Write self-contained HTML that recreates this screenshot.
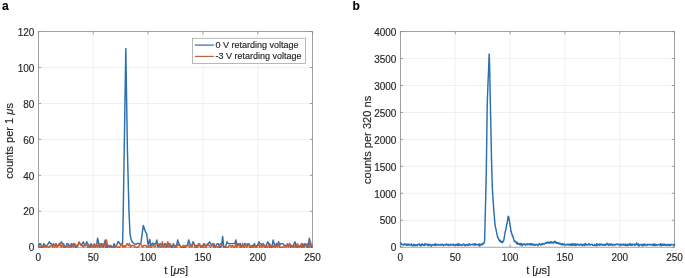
<!DOCTYPE html>
<html><head><meta charset="utf-8"><style>
html,body{margin:0;padding:0;background:#fff;width:685px;height:278px;overflow:hidden;}
svg{display:block;will-change:transform;filter:blur(0.25px);}
text{stroke:#262626;stroke-width:0.15px;}
</style></head><body>
<svg width="685" height="278" viewBox="0 0 685 278">
<rect width="685" height="278" fill="#ffffff"/>
<g font-family='"Liberation Sans", sans-serif' fill="#262626">
<line x1="93.24" y1="31.60" x2="93.24" y2="247.20" stroke="#ececec" stroke-width="0.8"/>
<line x1="148.08" y1="31.60" x2="148.08" y2="247.20" stroke="#ececec" stroke-width="0.8"/>
<line x1="202.92" y1="31.60" x2="202.92" y2="247.20" stroke="#ececec" stroke-width="0.8"/>
<line x1="257.76" y1="31.60" x2="257.76" y2="247.20" stroke="#ececec" stroke-width="0.8"/>
<line x1="38.40" y1="211.27" x2="312.60" y2="211.27" stroke="#ececec" stroke-width="0.8"/>
<line x1="38.40" y1="175.33" x2="312.60" y2="175.33" stroke="#ececec" stroke-width="0.8"/>
<line x1="38.40" y1="139.40" x2="312.60" y2="139.40" stroke="#ececec" stroke-width="0.8"/>
<line x1="38.40" y1="103.47" x2="312.60" y2="103.47" stroke="#ececec" stroke-width="0.8"/>
<line x1="38.40" y1="67.53" x2="312.60" y2="67.53" stroke="#ececec" stroke-width="0.8"/>
<line x1="455.24" y1="31.60" x2="455.24" y2="247.20" stroke="#ececec" stroke-width="0.8"/>
<line x1="510.08" y1="31.60" x2="510.08" y2="247.20" stroke="#ececec" stroke-width="0.8"/>
<line x1="564.92" y1="31.60" x2="564.92" y2="247.20" stroke="#ececec" stroke-width="0.8"/>
<line x1="619.76" y1="31.60" x2="619.76" y2="247.20" stroke="#ececec" stroke-width="0.8"/>
<line x1="400.40" y1="220.25" x2="674.60" y2="220.25" stroke="#ececec" stroke-width="0.8"/>
<line x1="400.40" y1="193.30" x2="674.60" y2="193.30" stroke="#ececec" stroke-width="0.8"/>
<line x1="400.40" y1="166.35" x2="674.60" y2="166.35" stroke="#ececec" stroke-width="0.8"/>
<line x1="400.40" y1="139.40" x2="674.60" y2="139.40" stroke="#ececec" stroke-width="0.8"/>
<line x1="400.40" y1="112.45" x2="674.60" y2="112.45" stroke="#ececec" stroke-width="0.8"/>
<line x1="400.40" y1="85.50" x2="674.60" y2="85.50" stroke="#ececec" stroke-width="0.8"/>
<line x1="400.40" y1="58.55" x2="674.60" y2="58.55" stroke="#ececec" stroke-width="0.8"/>
<rect x="38.40" y="31.60" width="274.20" height="215.60" fill="none" stroke="#8a8a8a" stroke-width="0.80"/>
<line x1="38.40" y1="247.20" x2="38.40" y2="244.50" stroke="#8a8a8a" stroke-width="0.80"/>
<line x1="38.40" y1="31.60" x2="38.40" y2="34.30" stroke="#8a8a8a" stroke-width="0.80"/>
<line x1="93.24" y1="247.20" x2="93.24" y2="244.50" stroke="#8a8a8a" stroke-width="0.80"/>
<line x1="93.24" y1="31.60" x2="93.24" y2="34.30" stroke="#8a8a8a" stroke-width="0.80"/>
<line x1="148.08" y1="247.20" x2="148.08" y2="244.50" stroke="#8a8a8a" stroke-width="0.80"/>
<line x1="148.08" y1="31.60" x2="148.08" y2="34.30" stroke="#8a8a8a" stroke-width="0.80"/>
<line x1="202.92" y1="247.20" x2="202.92" y2="244.50" stroke="#8a8a8a" stroke-width="0.80"/>
<line x1="202.92" y1="31.60" x2="202.92" y2="34.30" stroke="#8a8a8a" stroke-width="0.80"/>
<line x1="257.76" y1="247.20" x2="257.76" y2="244.50" stroke="#8a8a8a" stroke-width="0.80"/>
<line x1="257.76" y1="31.60" x2="257.76" y2="34.30" stroke="#8a8a8a" stroke-width="0.80"/>
<line x1="312.60" y1="247.20" x2="312.60" y2="244.50" stroke="#8a8a8a" stroke-width="0.80"/>
<line x1="312.60" y1="31.60" x2="312.60" y2="34.30" stroke="#8a8a8a" stroke-width="0.80"/>
<line x1="38.40" y1="247.20" x2="41.10" y2="247.20" stroke="#8a8a8a" stroke-width="0.80"/>
<line x1="312.60" y1="247.20" x2="309.90" y2="247.20" stroke="#8a8a8a" stroke-width="0.80"/>
<line x1="38.40" y1="211.27" x2="41.10" y2="211.27" stroke="#8a8a8a" stroke-width="0.80"/>
<line x1="312.60" y1="211.27" x2="309.90" y2="211.27" stroke="#8a8a8a" stroke-width="0.80"/>
<line x1="38.40" y1="175.33" x2="41.10" y2="175.33" stroke="#8a8a8a" stroke-width="0.80"/>
<line x1="312.60" y1="175.33" x2="309.90" y2="175.33" stroke="#8a8a8a" stroke-width="0.80"/>
<line x1="38.40" y1="139.40" x2="41.10" y2="139.40" stroke="#8a8a8a" stroke-width="0.80"/>
<line x1="312.60" y1="139.40" x2="309.90" y2="139.40" stroke="#8a8a8a" stroke-width="0.80"/>
<line x1="38.40" y1="103.47" x2="41.10" y2="103.47" stroke="#8a8a8a" stroke-width="0.80"/>
<line x1="312.60" y1="103.47" x2="309.90" y2="103.47" stroke="#8a8a8a" stroke-width="0.80"/>
<line x1="38.40" y1="67.53" x2="41.10" y2="67.53" stroke="#8a8a8a" stroke-width="0.80"/>
<line x1="312.60" y1="67.53" x2="309.90" y2="67.53" stroke="#8a8a8a" stroke-width="0.80"/>
<line x1="38.40" y1="31.60" x2="41.10" y2="31.60" stroke="#8a8a8a" stroke-width="0.80"/>
<line x1="312.60" y1="31.60" x2="309.90" y2="31.60" stroke="#8a8a8a" stroke-width="0.80"/>
<rect x="400.40" y="31.60" width="274.20" height="215.60" fill="none" stroke="#8a8a8a" stroke-width="0.80"/>
<line x1="400.40" y1="247.20" x2="400.40" y2="244.50" stroke="#8a8a8a" stroke-width="0.80"/>
<line x1="400.40" y1="31.60" x2="400.40" y2="34.30" stroke="#8a8a8a" stroke-width="0.80"/>
<line x1="455.24" y1="247.20" x2="455.24" y2="244.50" stroke="#8a8a8a" stroke-width="0.80"/>
<line x1="455.24" y1="31.60" x2="455.24" y2="34.30" stroke="#8a8a8a" stroke-width="0.80"/>
<line x1="510.08" y1="247.20" x2="510.08" y2="244.50" stroke="#8a8a8a" stroke-width="0.80"/>
<line x1="510.08" y1="31.60" x2="510.08" y2="34.30" stroke="#8a8a8a" stroke-width="0.80"/>
<line x1="564.92" y1="247.20" x2="564.92" y2="244.50" stroke="#8a8a8a" stroke-width="0.80"/>
<line x1="564.92" y1="31.60" x2="564.92" y2="34.30" stroke="#8a8a8a" stroke-width="0.80"/>
<line x1="619.76" y1="247.20" x2="619.76" y2="244.50" stroke="#8a8a8a" stroke-width="0.80"/>
<line x1="619.76" y1="31.60" x2="619.76" y2="34.30" stroke="#8a8a8a" stroke-width="0.80"/>
<line x1="674.60" y1="247.20" x2="674.60" y2="244.50" stroke="#8a8a8a" stroke-width="0.80"/>
<line x1="674.60" y1="31.60" x2="674.60" y2="34.30" stroke="#8a8a8a" stroke-width="0.80"/>
<line x1="400.40" y1="247.20" x2="403.10" y2="247.20" stroke="#8a8a8a" stroke-width="0.80"/>
<line x1="674.60" y1="247.20" x2="671.90" y2="247.20" stroke="#8a8a8a" stroke-width="0.80"/>
<line x1="400.40" y1="220.25" x2="403.10" y2="220.25" stroke="#8a8a8a" stroke-width="0.80"/>
<line x1="674.60" y1="220.25" x2="671.90" y2="220.25" stroke="#8a8a8a" stroke-width="0.80"/>
<line x1="400.40" y1="193.30" x2="403.10" y2="193.30" stroke="#8a8a8a" stroke-width="0.80"/>
<line x1="674.60" y1="193.30" x2="671.90" y2="193.30" stroke="#8a8a8a" stroke-width="0.80"/>
<line x1="400.40" y1="166.35" x2="403.10" y2="166.35" stroke="#8a8a8a" stroke-width="0.80"/>
<line x1="674.60" y1="166.35" x2="671.90" y2="166.35" stroke="#8a8a8a" stroke-width="0.80"/>
<line x1="400.40" y1="139.40" x2="403.10" y2="139.40" stroke="#8a8a8a" stroke-width="0.80"/>
<line x1="674.60" y1="139.40" x2="671.90" y2="139.40" stroke="#8a8a8a" stroke-width="0.80"/>
<line x1="400.40" y1="112.45" x2="403.10" y2="112.45" stroke="#8a8a8a" stroke-width="0.80"/>
<line x1="674.60" y1="112.45" x2="671.90" y2="112.45" stroke="#8a8a8a" stroke-width="0.80"/>
<line x1="400.40" y1="85.50" x2="403.10" y2="85.50" stroke="#8a8a8a" stroke-width="0.80"/>
<line x1="674.60" y1="85.50" x2="671.90" y2="85.50" stroke="#8a8a8a" stroke-width="0.80"/>
<line x1="400.40" y1="58.55" x2="403.10" y2="58.55" stroke="#8a8a8a" stroke-width="0.80"/>
<line x1="674.60" y1="58.55" x2="671.90" y2="58.55" stroke="#8a8a8a" stroke-width="0.80"/>
<line x1="400.40" y1="31.60" x2="403.10" y2="31.60" stroke="#8a8a8a" stroke-width="0.80"/>
<line x1="674.60" y1="31.60" x2="671.90" y2="31.60" stroke="#8a8a8a" stroke-width="0.80"/>
<polyline fill="none" stroke="#2a6fb0" stroke-width="1.45" stroke-linejoin="round" points="38.40,247.20 39.50,243.61 40.59,243.61 41.69,247.20 42.79,247.20 43.88,243.61 44.98,245.40 46.08,247.20 47.17,245.40 48.27,243.61 49.37,241.81 50.46,243.61 51.56,243.61 52.66,245.40 53.76,245.40 54.85,245.40 55.95,243.61 57.05,245.40 58.14,245.40 59.24,245.40 60.34,243.61 61.43,241.81 62.53,243.61 63.63,243.61 64.72,247.20 65.82,247.20 66.92,243.61 68.01,243.61 69.11,245.40 70.21,247.20 71.30,243.61 72.40,245.40 73.50,243.61 74.59,245.40 75.69,247.20 76.79,247.20 77.88,245.40 78.98,243.61 80.08,243.61 81.18,245.40 82.27,243.61 83.37,241.81 84.47,245.40 85.56,245.40 86.66,241.81 87.76,243.61 88.85,245.40 89.95,247.20 91.05,243.61 92.14,245.40 93.24,247.20 94.34,245.40 95.43,247.20 96.53,245.40 97.63,238.22 98.72,243.61 99.82,247.20 100.92,243.61 102.01,243.61 103.11,247.20 104.21,243.61 105.30,240.01 106.40,247.20 107.50,247.20 108.60,245.40 109.69,247.20 110.79,245.40 111.89,247.20 112.98,247.20 114.08,243.61 115.18,247.20 116.27,245.40 117.37,243.61 118.20,241.40 120.00,244.00 121.80,244.20 122.60,243.60 123.20,215.00 125.80,48.40 127.40,150.00 129.00,212.00 130.00,234.00 131.30,240.20 132.60,242.30 134.00,243.50 135.50,244.60 136.80,243.80 138.20,243.20 139.60,244.20 140.90,243.20 143.30,225.40 145.50,231.90 146.60,233.50 148.10,244.80 149.80,239.40 150.60,245.40 151.70,244.40 152.70,243.00 153.80,244.60 154.66,243.61 155.76,243.61 156.85,240.01 157.95,247.20 159.05,245.40 160.14,243.61 161.24,245.40 162.34,245.40 163.44,247.20 164.53,243.61 165.63,243.61 166.73,247.20 167.82,245.40 168.92,243.61 170.02,243.61 171.11,247.20 172.21,247.20 173.31,243.61 174.40,247.20 175.50,245.40 176.60,245.40 177.69,240.01 178.79,243.61 179.89,245.40 180.98,247.20 182.08,247.20 183.18,247.20 184.27,247.20 185.37,247.20 186.47,245.40 187.56,245.40 188.66,240.01 189.76,243.61 190.86,245.40 191.95,245.40 193.05,241.81 194.15,243.61 195.24,247.20 196.34,245.40 197.44,245.40 198.53,245.40 199.63,245.40 200.73,245.40 201.82,247.20 202.92,245.40 204.02,243.61 205.11,245.40 206.21,245.40 207.31,245.40 208.40,243.61 209.50,241.81 210.60,243.61 211.69,245.40 212.79,245.40 213.89,243.61 214.98,247.20 216.08,245.40 217.18,243.61 218.28,243.61 219.37,247.20 220.47,247.20 221.57,245.40 222.66,236.42 223.76,247.20 224.86,247.20 225.95,245.40 227.05,241.81 228.15,243.61 229.24,243.61 230.34,243.61 231.44,243.61 232.53,243.61 233.63,243.61 234.73,243.61 235.82,240.01 236.92,245.40 238.02,243.61 239.11,245.40 240.21,243.61 241.31,247.20 242.40,245.40 243.50,245.40 244.60,243.61 245.70,245.40 246.79,245.40 247.89,243.61 248.99,243.61 250.08,247.20 251.18,247.20 252.28,245.40 253.37,245.40 254.47,243.61 255.57,247.20 256.66,245.40 257.76,245.40 258.86,241.81 259.95,243.61 261.05,243.61 262.15,245.40 263.24,243.61 264.34,245.40 265.44,247.20 266.53,245.40 267.63,241.81 268.73,243.61 269.82,247.20 270.92,247.20 272.02,247.20 273.12,240.01 274.21,243.61 275.31,247.20 276.41,243.61 277.50,245.40 278.60,241.81 279.70,245.40 280.79,243.61 281.89,243.61 282.99,243.61 284.08,245.40 285.18,245.40 286.28,245.40 287.37,245.40 288.47,245.40 289.57,243.61 290.66,247.20 291.76,245.40 292.86,247.20 293.95,243.61 295.05,241.81 296.15,247.20 297.24,247.20 298.34,245.40 299.44,247.20 300.54,245.40 301.63,247.20 302.73,243.61 303.83,247.20 304.92,243.61 306.02,245.40 307.12,247.20 308.21,247.20 309.31,238.22 310.41,243.61 311.50,247.20 312.60,247.20"/>
<polyline fill="none" stroke="#cc5a2a" stroke-width="1.45" stroke-linejoin="round" points="38.40,247.20 39.50,247.20 40.59,247.20 41.69,245.40 42.79,247.20 43.88,247.20 44.98,245.40 46.08,247.20 47.17,245.40 48.27,247.20 49.37,247.20 50.46,245.40 51.56,245.40 52.66,247.20 53.76,243.61 54.85,247.20 55.95,243.61 57.05,247.20 58.14,245.40 59.24,243.61 60.34,245.40 61.43,247.20 62.53,243.61 63.63,247.20 64.72,247.20 65.82,247.20 66.92,245.40 68.01,247.20 69.11,245.40 70.21,247.20 71.30,247.20 72.40,245.40 73.50,247.20 74.59,243.61 75.69,245.40 76.79,245.40 77.88,245.40 78.98,241.81 80.08,243.61 81.18,245.40 82.27,245.40 83.37,247.20 84.47,245.40 85.56,245.40 86.66,243.61 87.76,247.20 88.85,247.20 89.95,247.20 91.05,247.20 92.14,245.40 93.24,247.20 94.34,243.61 95.43,247.20 96.53,243.61 97.63,247.20 98.72,245.40 99.82,243.61 100.92,245.40 102.01,247.20 103.11,245.40 104.21,243.61 105.30,247.20 106.40,240.01 107.50,245.40 108.60,245.40 109.69,245.40 110.79,247.20 111.89,247.20 112.98,247.20 114.08,247.20 115.18,247.20 116.27,245.40 117.37,247.20 118.47,247.20 119.56,247.20 120.66,245.40 121.76,243.61 122.85,247.20 123.95,245.40 125.05,247.20 126.14,245.40 127.24,243.61 128.34,245.40 129.43,243.61 130.53,247.20 131.63,245.40 132.72,245.40 133.82,245.40 134.92,247.20 136.02,247.20 137.11,247.20 138.21,247.20 139.31,245.40 140.40,243.61 141.50,245.40 142.60,247.20 143.69,245.40 144.79,245.40 145.89,245.40 146.98,247.20 148.08,247.20 149.18,245.40 150.27,247.20 151.37,247.20 152.47,245.40 153.56,245.40 154.66,247.20 155.76,245.40 156.85,243.61 157.95,243.61 159.05,245.40 160.14,247.20 161.24,247.20 162.34,241.81 163.44,247.20 164.53,245.40 165.63,247.20 166.73,245.40 167.82,241.81 168.92,247.20 170.02,245.40 171.11,245.40 172.21,245.40 173.31,245.40 174.40,245.40 175.50,247.20 176.60,247.20 177.69,243.61 178.79,245.40 179.89,245.40 180.98,247.20 182.08,247.20 183.18,245.40 184.27,245.40 185.37,247.20 186.47,245.40 187.56,245.40 188.66,245.40 189.76,247.20 190.86,245.40 191.95,247.20 193.05,243.61 194.15,243.61 195.24,247.20 196.34,247.20 197.44,247.20 198.53,243.61 199.63,243.61 200.73,247.20 201.82,247.20 202.92,245.40 204.02,247.20 205.11,247.20 206.21,247.20 207.31,243.61 208.40,245.40 209.50,245.40 210.60,247.20 211.69,245.40 212.79,243.61 213.89,247.20 214.98,247.20 216.08,245.40 217.18,247.20 218.28,247.20 219.37,245.40 220.47,243.61 221.57,245.40 222.66,245.40 223.76,247.20 224.86,247.20 225.95,247.20 227.05,247.20 228.15,247.20 229.24,245.40 230.34,245.40 231.44,247.20 232.53,245.40 233.63,247.20 234.73,247.20 235.82,243.61 236.92,247.20 238.02,245.40 239.11,243.61 240.21,247.20 241.31,247.20 242.40,243.61 243.50,247.20 244.60,247.20 245.70,243.61 246.79,247.20 247.89,245.40 248.99,245.40 250.08,247.20 251.18,245.40 252.28,247.20 253.37,247.20 254.47,245.40 255.57,247.20 256.66,247.20 257.76,245.40 258.86,243.61 259.95,247.20 261.05,245.40 262.15,247.20 263.24,243.61 264.34,247.20 265.44,245.40 266.53,247.20 267.63,247.20 268.73,245.40 269.82,243.61 270.92,247.20 272.02,245.40 273.12,247.20 274.21,245.40 275.31,247.20 276.41,245.40 277.50,247.20 278.60,243.61 279.70,247.20 280.79,247.20 281.89,247.20 282.99,247.20 284.08,247.20 285.18,245.40 286.28,247.20 287.37,243.61 288.47,247.20 289.57,243.61 290.66,245.40 291.76,245.40 292.86,247.20 293.95,245.40 295.05,247.20 296.15,247.20 297.24,243.61 298.34,245.40 299.44,247.20 300.54,245.40 301.63,243.61 302.73,247.20 303.83,247.20 304.92,245.40 306.02,245.40 307.12,243.61 308.21,247.20 309.31,247.20 310.41,241.81 311.50,245.40 312.60,245.40"/>
<polyline fill="none" stroke="#2a6fb0" stroke-width="1.45" stroke-linejoin="round" points="400.40,242.29 400.75,243.14 401.10,243.51 401.45,244.66 401.80,244.09 402.15,244.32 402.51,244.39 402.86,244.71 403.21,244.44 403.56,244.67 403.91,245.09 404.26,244.04 404.61,244.06 404.96,243.67 405.31,244.49 405.66,244.73 406.02,244.81 406.37,245.31 406.72,244.10 407.07,245.12 407.42,245.18 407.77,244.72 408.12,243.91 408.47,244.54 408.82,245.16 409.17,245.03 409.53,244.39 409.88,244.79 410.23,245.10 410.58,244.85 410.93,244.39 411.28,243.81 411.63,245.38 411.98,245.08 412.33,245.16 412.68,245.95 413.04,245.22 413.39,245.27 413.74,244.23 414.09,244.84 414.44,245.56 414.79,244.46 415.14,244.95 415.49,245.62 415.84,245.06 416.19,245.06 416.54,245.20 416.90,244.76 417.25,245.87 417.60,244.90 417.95,244.28 418.30,244.36 418.65,244.24 419.00,244.23 419.35,244.05 419.70,245.32 420.05,244.36 420.41,245.68 420.76,245.07 421.11,245.70 421.46,244.27 421.81,244.13 422.16,244.87 422.51,243.91 422.86,245.10 423.21,244.70 423.56,244.70 423.92,245.29 424.27,244.56 424.62,243.83 424.97,245.27 425.32,244.34 425.67,244.85 426.02,243.92 426.37,244.54 426.72,244.45 427.07,244.46 427.43,244.65 427.78,245.45 428.13,244.10 428.48,245.44 428.83,244.66 429.18,244.48 429.53,245.18 429.88,244.70 430.23,244.21 430.58,244.79 430.93,245.21 431.29,246.19 431.64,245.25 431.99,245.06 432.34,245.03 432.69,245.24 433.04,244.59 433.39,245.05 433.74,244.83 434.09,244.45 434.44,245.19 434.80,244.92 435.15,243.73 435.50,244.35 435.85,245.40 436.20,244.81 436.55,244.50 436.90,244.18 437.25,244.70 437.60,245.03 437.95,245.13 438.31,244.46 438.66,244.62 439.01,245.03 439.36,244.87 439.71,244.98 440.06,244.42 440.41,245.11 440.76,244.54 441.11,244.36 441.46,244.54 441.82,245.18 442.17,244.12 442.52,245.10 442.87,244.57 443.22,245.14 443.57,245.62 443.92,244.66 444.27,244.64 444.62,244.81 444.97,244.64 445.32,245.09 445.68,245.13 446.03,244.86 446.38,243.85 446.73,244.38 447.08,245.03 447.43,244.50 447.78,245.01 448.13,245.00 448.48,244.36 448.83,245.03 449.19,245.59 449.54,245.21 449.89,244.73 450.24,244.71 450.59,244.17 450.94,245.12 451.29,244.42 451.64,244.57 451.99,244.85 452.34,244.37 452.70,244.54 453.05,245.19 453.40,244.25 453.75,245.37 454.10,244.75 454.45,244.77 454.80,244.57 455.15,245.13 455.50,244.79 455.85,244.84 456.21,244.29 456.56,245.16 456.91,244.74 457.26,244.90 457.61,245.40 457.96,243.48 458.31,244.81 458.66,245.50 459.01,244.09 459.36,245.29 459.71,244.59 460.07,244.36 460.42,245.09 460.77,244.98 461.12,245.04 461.47,244.84 461.82,245.56 462.17,245.37 462.52,244.84 462.87,244.27 463.22,244.47 463.58,243.94 463.93,244.44 464.28,245.02 464.63,244.83 464.98,245.76 465.33,245.24 465.68,245.27 466.03,244.64 466.38,244.46 466.73,245.04 467.09,245.06 467.44,245.52 467.79,244.83 468.14,244.65 468.49,244.55 468.84,245.15 469.19,243.80 469.54,244.18 469.89,244.81 470.24,245.02 470.60,244.92 470.95,244.69 471.30,244.77 471.65,244.52 472.00,244.38 472.35,244.09 472.70,244.20 473.05,244.81 473.40,244.56 473.75,244.94 474.10,245.03 474.46,243.82 474.81,244.97 475.16,243.78 475.51,244.91 475.86,244.62 476.21,244.21 476.56,244.73 476.91,244.55 477.26,244.86 477.61,244.97 477.97,244.82 478.32,245.05 478.67,243.94 479.02,244.81 479.37,243.90 479.72,246.03 480.07,244.72 480.42,244.46 480.77,244.87 481.12,244.19 481.48,244.41 481.83,244.86 482.18,244.51 482.53,243.36 482.88,244.27 483.23,243.72 483.58,243.55 483.93,242.75 484.28,242.91 484.63,240.59 484.99,225.25 485.34,211.88 485.69,198.04 486.04,182.38 486.39,164.54 486.74,140.80 487.09,112.60 487.44,98.17 487.79,89.42 488.14,79.47 488.49,72.26 488.85,62.20 489.20,53.97 489.55,63.72 489.90,80.23 490.25,97.76 490.60,115.23 490.95,131.19 491.30,149.79 491.65,165.14 492.00,176.19 492.36,188.66 492.71,194.00 493.06,199.31 493.41,203.74 493.76,210.26 494.11,213.69 494.46,218.11 494.81,222.84 495.16,225.12 495.51,227.79 495.87,228.30 496.22,230.57 496.57,232.20 496.92,234.22 497.27,235.23 497.62,237.43 497.97,237.35 498.32,238.56 498.67,238.98 499.02,240.00 499.38,240.17 499.73,241.23 500.08,240.30 500.43,240.43 500.78,242.01 501.13,242.28 501.48,242.27 501.83,241.69 502.18,241.29 502.53,242.69 502.88,241.86 503.24,241.39 503.59,240.72 503.94,239.61 504.29,236.86 504.64,235.82 504.99,232.76 505.34,231.27 505.69,230.44 506.04,228.68 506.39,226.72 506.75,223.93 507.10,222.97 507.45,221.24 507.80,218.49 508.15,216.24 508.50,216.66 508.85,217.44 509.20,219.99 509.55,221.78 509.90,224.54 510.26,226.26 510.61,228.44 510.96,231.59 511.31,231.52 511.66,233.70 512.01,234.01 512.36,235.88 512.71,235.35 513.06,237.34 513.41,238.25 513.77,239.39 514.12,240.96 514.47,241.81 514.82,241.25 515.17,241.04 515.52,241.82 515.87,241.87 516.22,242.18 516.57,243.73 516.92,242.96 517.28,242.24 517.63,243.57 517.98,244.37 518.33,243.60 518.68,243.81 519.03,243.48 519.38,244.21 519.73,243.83 520.08,245.05 520.43,243.65 520.78,243.39 521.14,243.61 521.49,244.98 521.84,244.09 522.19,245.70 522.54,244.12 522.89,244.30 523.24,244.75 523.59,244.11 523.94,244.22 524.29,243.83 524.65,244.23 525.00,244.19 525.35,245.25 525.70,244.87 526.05,244.55 526.40,244.18 526.75,244.33 527.10,243.61 527.45,244.76 527.80,244.46 528.16,244.23 528.51,244.47 528.86,244.12 529.21,244.65 529.56,243.69 529.91,244.54 530.26,243.85 530.61,244.41 530.96,243.67 531.31,245.08 531.67,244.16 532.02,244.63 532.37,244.31 532.72,243.85 533.07,244.98 533.42,245.08 533.77,244.93 534.12,244.33 534.47,245.37 534.82,244.41 535.17,245.09 535.53,245.03 535.88,244.66 536.23,244.30 536.58,244.79 536.93,244.73 537.28,244.52 537.63,244.64 537.98,245.82 538.33,244.74 538.68,244.50 539.04,244.02 539.39,243.57 539.74,244.25 540.09,244.55 540.44,245.07 540.79,244.57 541.14,244.17 541.49,243.86 541.84,244.83 542.19,244.22 542.55,243.87 542.90,243.30 543.25,244.01 543.60,244.32 543.95,244.33 544.30,244.05 544.65,244.06 545.00,243.20 545.35,242.95 545.70,242.98 546.06,242.61 546.41,243.27 546.76,242.73 547.11,242.96 547.46,242.62 547.81,241.91 548.16,242.38 548.51,243.15 548.86,242.40 549.21,242.66 549.56,243.08 549.92,242.77 550.27,241.95 550.62,241.64 550.97,242.72 551.32,242.04 551.67,241.98 552.02,243.09 552.37,242.49 552.72,242.43 553.07,242.27 553.43,243.08 553.78,242.42 554.13,241.68 554.48,241.52 554.83,241.36 555.18,242.53 555.53,241.57 555.88,242.28 556.23,243.38 556.58,242.47 556.94,243.12 557.29,242.82 557.64,243.24 557.99,242.72 558.34,243.30 558.69,243.64 559.04,243.11 559.39,243.54 559.74,243.94 560.09,243.20 560.45,244.09 560.80,244.28 561.15,244.31 561.50,244.84 561.85,244.47 562.20,243.38 562.55,244.80 562.90,244.40 563.25,244.95 563.60,244.71 563.95,243.69 564.31,243.99 564.66,244.73 565.01,244.44 565.36,244.85 565.71,244.84 566.06,244.91 566.41,244.91 566.76,244.32 567.11,244.20 567.46,244.26 567.82,244.58 568.17,245.17 568.52,244.55 568.87,244.97 569.22,244.10 569.57,244.27 569.92,244.18 570.27,244.72 570.62,245.44 570.97,244.10 571.33,243.98 571.68,245.30 572.03,244.52 572.38,244.02 572.73,245.12 573.08,243.75 573.43,244.79 573.78,245.15 574.13,243.97 574.48,244.50 574.84,244.96 575.19,244.23 575.54,245.61 575.89,243.79 576.24,245.06 576.59,244.53 576.94,244.86 577.29,244.46 577.64,244.24 577.99,245.07 578.34,244.29 578.70,244.81 579.05,245.00 579.40,244.78 579.75,245.16 580.10,245.06 580.45,244.21 580.80,244.75 581.15,244.12 581.50,244.46 581.85,245.17 582.21,245.59 582.56,245.01 582.91,244.55 583.26,244.67 583.61,245.08 583.96,244.18 584.31,245.52 584.66,245.29 585.01,244.61 585.36,243.61 585.72,244.48 586.07,245.17 586.42,244.39 586.77,244.35 587.12,244.22 587.47,244.88 587.82,245.07 588.17,244.62 588.52,244.48 588.87,243.91 589.23,243.67 589.58,245.04 589.93,244.94 590.28,244.71 590.63,244.80 590.98,244.45 591.33,244.45 591.68,244.56 592.03,244.03 592.38,244.76 592.73,245.19 593.09,245.44 593.44,245.18 593.79,245.19 594.14,245.60 594.49,244.37 594.84,244.60 595.19,244.89 595.54,245.12 595.89,245.46 596.24,245.14 596.60,243.79 596.95,245.76 597.30,244.62 597.65,244.33 598.00,244.62 598.35,244.84 598.70,244.32 599.05,245.23 599.40,244.42 599.75,244.00 600.11,245.20 600.46,245.09 600.81,244.63 601.16,244.21 601.51,244.05 601.86,244.36 602.21,245.02 602.56,245.24 602.91,244.58 603.26,244.50 603.62,245.23 603.97,244.67 604.32,244.54 604.67,244.19 605.02,245.18 605.37,244.43 605.72,245.27 606.07,244.91 606.42,244.74 606.77,243.96 607.12,243.09 607.48,244.58 607.83,244.46 608.18,244.21 608.53,245.36 608.88,244.33 609.23,245.31 609.58,243.91 609.93,244.00 610.28,244.46 610.63,245.10 610.99,243.90 611.34,244.58 611.69,244.65 612.04,244.43 612.39,245.54 612.74,244.50 613.09,244.22 613.44,244.54 613.79,244.64 614.14,245.17 614.50,244.40 614.85,244.61 615.20,244.71 615.55,244.98 615.90,244.30 616.25,244.11 616.60,244.52 616.95,244.28 617.30,244.07 617.65,243.94 618.01,244.60 618.36,244.82 618.71,244.91 619.06,244.71 619.41,244.45 619.76,244.26 620.11,244.92 620.46,244.64 620.81,245.20 621.16,244.10 621.51,244.91 621.87,244.54 622.22,245.07 622.57,244.86 622.92,245.05 623.27,243.89 623.62,244.54 623.97,244.80 624.32,245.18 624.67,245.02 625.02,244.44 625.38,243.91 625.73,245.42 626.08,245.17 626.43,244.81 626.78,245.03 627.13,245.53 627.48,244.71 627.83,244.36 628.18,245.49 628.53,244.62 628.89,244.26 629.24,244.25 629.59,244.93 629.94,243.61 630.29,244.46 630.64,245.12 630.99,244.25 631.34,245.27 631.69,244.29 632.04,245.34 632.40,244.34 632.75,245.01 633.10,244.18 633.45,244.37 633.80,244.51 634.15,244.70 634.50,244.20 634.85,245.61 635.20,244.52 635.55,244.53 635.90,244.46 636.26,244.33 636.61,242.94 636.96,244.68 637.31,244.34 637.66,244.66 638.01,243.97 638.36,245.72 638.71,243.91 639.06,245.07 639.41,245.83 639.77,245.26 640.12,244.82 640.47,244.64 640.82,244.76 641.17,244.34 641.52,244.76 641.87,244.77 642.22,245.78 642.57,244.50 642.92,244.25 643.28,244.94 643.63,245.65 643.98,245.39 644.33,243.93 644.68,245.04 645.03,245.06 645.38,245.14 645.73,244.41 646.08,245.03 646.43,245.17 646.79,245.47 647.14,244.80 647.49,244.26 647.84,244.82 648.19,244.32 648.54,244.66 648.89,244.67 649.24,244.66 649.59,244.73 649.94,244.25 650.29,244.51 650.65,245.03 651.00,244.69 651.35,244.79 651.70,244.51 652.05,244.66 652.40,244.55 652.75,245.47 653.10,244.57 653.45,244.11 653.80,245.41 654.16,243.98 654.51,244.61 654.86,244.85 655.21,245.63 655.56,244.23 655.91,245.22 656.26,245.00 656.61,244.49 656.96,245.25 657.31,245.23 657.67,245.31 658.02,244.81 658.37,244.47 658.72,244.56 659.07,244.56 659.42,244.92 659.77,244.69 660.12,245.09 660.47,243.79 660.82,244.66 661.18,245.71 661.53,245.28 661.88,243.98 662.23,245.42 662.58,244.97 662.93,244.57 663.28,245.29 663.63,244.25 663.98,243.95 664.33,245.16 664.68,244.22 665.04,245.20 665.39,245.25 665.74,244.65 666.09,244.65 666.44,245.05 666.79,244.36 667.14,245.48 667.49,245.18 667.84,245.29 668.19,244.40 668.55,244.38 668.90,244.44 669.25,245.40 669.60,244.70 669.95,244.55 670.30,245.55 670.65,245.17 671.00,244.46 671.35,244.43 671.70,244.65 672.06,244.51 672.41,244.61 672.76,244.70 673.11,244.83 673.46,245.20 673.81,244.89 674.16,244.97 674.51,243.65"/>
<text x="34.40" y="251.40" text-anchor="end" font-size="10.0">0</text>
<text x="34.40" y="215.47" text-anchor="end" font-size="10.0">20</text>
<text x="34.40" y="179.53" text-anchor="end" font-size="10.0">40</text>
<text x="34.40" y="143.60" text-anchor="end" font-size="10.0">60</text>
<text x="34.40" y="107.67" text-anchor="end" font-size="10.0">80</text>
<text x="34.40" y="71.73" text-anchor="end" font-size="10.0">100</text>
<text x="34.40" y="35.80" text-anchor="end" font-size="10.0">120</text>
<text x="38.40" y="260.60" text-anchor="middle" font-size="10.0">0</text>
<text x="93.24" y="260.60" text-anchor="middle" font-size="10.0">50</text>
<text x="148.08" y="260.60" text-anchor="middle" font-size="10.0">100</text>
<text x="202.92" y="260.60" text-anchor="middle" font-size="10.0">150</text>
<text x="257.76" y="260.60" text-anchor="middle" font-size="10.0">200</text>
<text x="312.60" y="260.60" text-anchor="middle" font-size="10.0">250</text>
<text x="176.20" y="273.80" text-anchor="middle" font-size="11.1">t [<tspan font-style="italic">&#956;</tspan>s]</text>
<text transform="translate(13.20,140.90) rotate(-90)" text-anchor="middle" font-size="11.1">counts per 1 <tspan font-style="italic">&#956;</tspan>s</text>
<text x="396.40" y="251.40" text-anchor="end" font-size="10.0">0</text>
<text x="396.40" y="224.45" text-anchor="end" font-size="10.0">500</text>
<text x="396.40" y="197.50" text-anchor="end" font-size="10.0">1000</text>
<text x="396.40" y="170.55" text-anchor="end" font-size="10.0">1500</text>
<text x="396.40" y="143.60" text-anchor="end" font-size="10.0">2000</text>
<text x="396.40" y="116.65" text-anchor="end" font-size="10.0">2500</text>
<text x="396.40" y="89.70" text-anchor="end" font-size="10.0">3000</text>
<text x="396.40" y="62.75" text-anchor="end" font-size="10.0">3500</text>
<text x="396.40" y="35.80" text-anchor="end" font-size="10.0">4000</text>
<text x="400.40" y="260.60" text-anchor="middle" font-size="10.0">0</text>
<text x="455.24" y="260.60" text-anchor="middle" font-size="10.0">50</text>
<text x="510.08" y="260.60" text-anchor="middle" font-size="10.0">100</text>
<text x="564.92" y="260.60" text-anchor="middle" font-size="10.0">150</text>
<text x="619.76" y="260.60" text-anchor="middle" font-size="10.0">200</text>
<text x="674.60" y="260.60" text-anchor="middle" font-size="10.0">250</text>
<text x="538.20" y="273.80" text-anchor="middle" font-size="11.1">t [<tspan font-style="italic">&#956;</tspan>s]</text>
<text transform="translate(371.30,139.90) rotate(-90)" text-anchor="middle" font-size="11.1">counts per 320 ns</text>
<rect x="192.4" y="38.2" width="113" height="25.2" fill="#ffffff" stroke="#8a8a8a" stroke-width="0.6"/>
<line x1="194.9" y1="45.1" x2="213.9" y2="45.1" stroke="#3a79b4" stroke-width="1.3"/>
<line x1="194.9" y1="56.4" x2="213.9" y2="56.4" stroke="#c0623a" stroke-width="1.2"/>
<text x="215.5" y="47.9" font-size="9.0">0 V retarding voltage</text>
<text x="215.5" y="59.2" font-size="9.0">-3 V retarding voltage</text>
<text x="2" y="9.6" font-size="12" font-weight="bold" fill="#000">a</text>
<text x="352.6" y="9.6" font-size="12" font-weight="bold" fill="#000">b</text>
</g></svg>
</body></html>
